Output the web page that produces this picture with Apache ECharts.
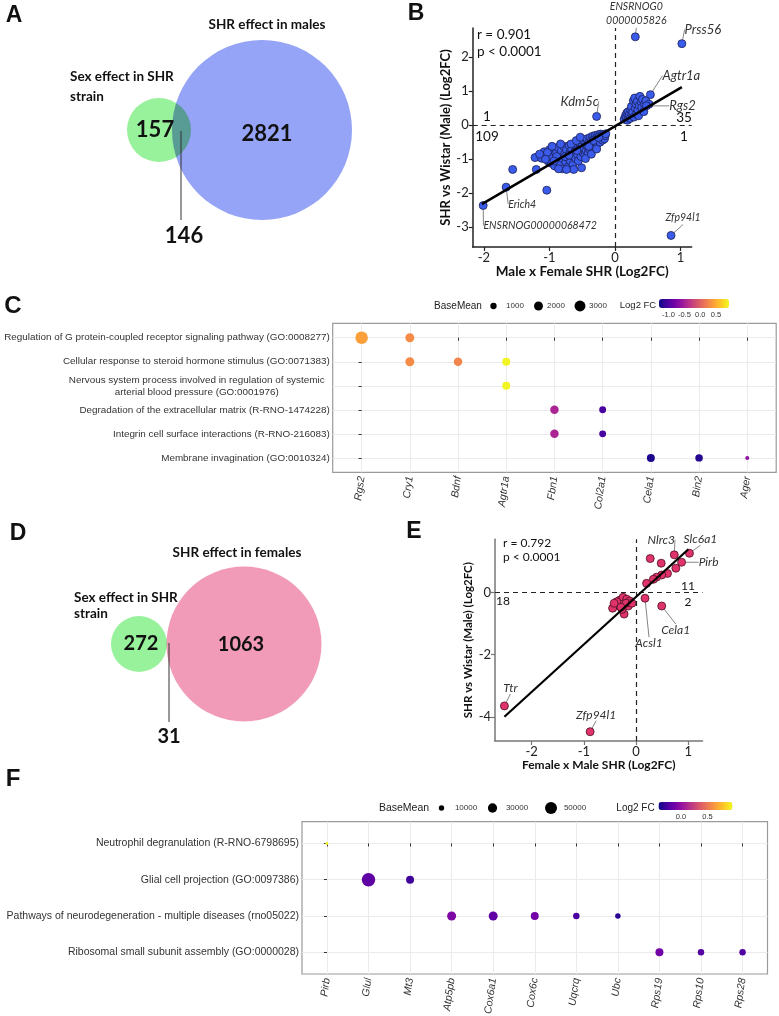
<!DOCTYPE html>
<html>
<head>
<meta charset="utf-8">
<script src="https://cdn.jsdelivr.net/npm/echarts@6/dist/echarts.min.js"></script>
<style>
html, body { margin: 0; padding: 0; background: #fff; }
#chart { width: 779px; height: 1016px; }
</style>
</head>
<body>
<div id="chart"></div>
<script>
// ---------- data ----------
// venn counts: [only left set, overlap, only right set]
const vennMaleCounts = [157, 146, 2821];
const vennMaleSets = ['Sex effect in SHR\nstrain', 'SHR effect in males'];
const vennFemaleCounts = [272, 31, 1063];
const vennFemaleSets = ['Sex effect in SHR\nstrain', 'SHR effect in females'];

// panel B - male x female vs SHR/Wistar (male)
const bStats = ['r = 0.901', 'p < 0.0001'];
const bQuadrants = [1, 109, 35, 1]; // upper-left, lower-left, upper-right, lower-right
const bTicksX = [-2, -1, 0, 1];
const bTicksY = [-3, -2, -1, 0, 1, 2];
const bPoints = [
  [-1.56, -1.30], [-1.20, -1.30], [-1.04, -1.91], [-0.51, -1.25],
  [-1.22, -0.95], [-1.12, -0.97], [-1.08, -0.78], [-1.05, -0.90], [-1.02, -1.05], [-1.00, -0.72],
  [-0.98, -0.85], [-0.97, -1.12], [-0.95, -0.95], [-0.93, -0.70], [-0.92, -1.20], [-0.90, -0.82],
  [-0.88, -1.02], [-0.87, -0.65], [-0.85, -0.90], [-0.84, -1.15], [-0.82, -0.75], [-0.80, -1.28],
  [-0.80, -0.98], [-0.78, -0.62], [-0.77, -0.85], [-0.75, -1.08], [-0.74, -0.72], [-0.72, -0.95],
  [-0.71, -1.22], [-0.70, -0.60], [-0.69, -0.82], [-0.68, -1.05], [-0.66, -0.70], [-0.65, -0.90],
  [-0.64, -1.15], [-0.62, -0.58], [-0.61, -0.78], [-0.60, -0.98], [-0.58, -0.66], [-0.57, -0.86],
  [-0.56, -1.05], [-0.55, -0.50], [-0.54, -0.72], [-0.52, -0.92], [-0.50, -0.60], [-0.49, -0.80],
  [-0.48, -0.45], [-0.47, -0.68], [-0.46, -0.88], [-0.45, -0.55], [-0.44, -0.75], [-0.43, -0.40],
  [-0.42, -0.62], [-0.41, -0.82], [-0.40, -0.50], [-0.39, -0.70], [-0.38, -0.36], [-0.37, -0.58],
  [-0.36, -0.45], [-0.35, -0.65], [-0.34, -0.32], [-0.33, -0.52], [-0.32, -0.40], [-0.31, -0.60],
  [-0.30, -0.30], [-0.29, -0.47], [-0.28, -0.36], [-0.27, -0.55], [-0.26, -0.28], [-0.25, -0.42],
  [-0.24, -0.33], [-0.23, -0.50], [-0.22, -0.26], [-0.21, -0.38], [-0.20, -0.30], [-0.19, -0.44],
  [-0.18, -0.34], [-0.17, -0.27], [-0.16, -0.40], [-0.15, -0.31], [-0.14, -0.25], [-1.15, -0.85],
  [-1.03, -0.80], [-0.96, -0.62], [-0.89, -0.92], [-0.83, -0.55], [-0.76, -0.92], [-0.67, -0.55],
  [-0.59, -0.45], [-0.53, -0.35], [-0.63, -1.30], [-0.86, -1.28], [-0.74, -1.30], [-1.06, -1.00],
  [-0.93, -1.05], [-0.45, -0.98], [-0.36, -0.85], [-0.28, -0.70], [-0.70, -0.88], [-0.58, -0.74],
  [-0.40, -0.62], [-0.33, -0.45], [-0.25, -0.36],
  [0.14, 0.18], [0.16, 0.28], [0.17, 0.22], [0.18, 0.36], [0.19, 0.15], [0.20, 0.40], [0.21, 0.25],
  [0.22, 0.32], [0.23, 0.20], [0.24, 0.45], [0.25, 0.55], [0.26, 0.30], [0.27, 0.38], [0.28, 0.72],
  [0.29, 0.24], [0.30, 0.80], [0.31, 0.50], [0.32, 0.62], [0.33, 0.34], [0.34, 0.70], [0.35, 0.45],
  [0.36, 0.28], [0.37, 0.58], [0.38, 0.85], [0.40, 0.66], [0.41, 0.52], [0.42, 0.76], [0.44, 0.40],
  [0.45, 0.62], [0.47, 0.72], [0.52, 0.62]
];
const bNamed = ['ENSRNOG0\n0000005826', 'Prss56', 'Agtr1a', 'Rgs2', 'Kdm5c', 'Erich4', 'ENSRNOG00000068472', 'Zfp94l1'];
const bNamedX = [0.31, 1.02, 0.54, 0.48, -0.28, -1.66, -2.01, 0.855];
const bNamedY = [2.60, 2.40, 0.90, 0.57, 0.26, -1.82, -2.36, -3.24];
const bFit = [[-2.03, -2.32], [1.02, 1.12]];

// panel C - enrichment (male)
const cGenes = ['Rgs2', 'Cry1', 'Bdnf', 'Agtr1a', 'Fbn1', 'Col2a1', 'Cela1', 'Bin2', 'Ager'];
const cTerms = [
  'Regulation of G protein-coupled receptor signaling pathway (GO:0008277)',
  'Cellular response to steroid hormone stimulus (GO:0071383)',
  'Nervous system process involved in regulation of systemic\narterial blood pressure (GO:0001976)',
  'Degradation of the extracellular matrix (R-RNO-1474228)',
  'Integrin cell surface interactions (R-RNO-216083)',
  'Membrane invagination (GO:0010324)'
];
// [gene, term index, baseMean, log2FC]
const cDots = [
  ['Rgs2', 0, 3900, 0.42], ['Cry1', 0, 2000, 0.29],
  ['Cry1', 1, 2000, 0.29], ['Bdnf', 1, 1800, 0.25], ['Agtr1a', 1, 1600, 0.88],
  ['Agtr1a', 2, 1600, 0.88],
  ['Fbn1', 3, 1800, -0.46], ['Col2a1', 3, 1200, -1.03],
  ['Fbn1', 4, 1800, -0.46], ['Col2a1', 4, 1200, -1.03],
  ['Cela1', 5, 1600, -1.23], ['Bin2', 5, 1400, -1.20], ['Ager', 5, 400, -0.64]
];
const cSizeLegend = [1000, 2000, 3000];
const cColorTicks = [-1.0, -0.5, 0.0, 0.5];

// panel E - female x male vs SHR/Wistar
const eStats = ['r = 0.792', 'p < 0.0001'];
const eQuadrants = [11, 18, 2]; // upper-right, lower-left, lower-right
const eTicksX = [-2, -1, 0, 1];
const eTicksY = [-4, -2, 0];
const ePoints = [
  [0.27, 1.10], [0.48, 0.95], [0.76, 0.79], [0.60, 0.62], [0.49, 0.57], [0.39, 0.50], [0.33, 0.43], [0.20, 0.30],
  [-0.40, -0.43], [-0.31, -0.24], [-0.25, -0.15], [-0.18, -0.21], [-0.12, -0.27], [-0.34, -0.40],
  [-0.24, -0.36], [-0.45, -0.50], [-0.23, -0.69], [-0.15, -0.43], [-0.27, -0.54], [-0.37, -0.29],
  [-0.19, -0.34], [-0.29, -0.47], [-0.08, -0.34], [-0.42, -0.34]
];
const eNamed = ['Slc6a1', 'Nlrc3', 'Pirb', 'Cela1', 'Acsl1', 'Ttr', 'Zfp94l1'];
const eNamedX = [1.02, 0.73, 0.87, 0.49, 0.17, -2.52, -0.88];
const eNamedY = [1.27, 1.22, 0.98, -0.43, -0.18, -3.65, -4.48];
const eFit = [[-2.52, -4.0], [1.0, 1.40]];

// panel F - enrichment (female)
const fGenes = ['Pirb', 'Glul', 'Mt3', 'Atp5pb', 'Cox6a1', 'Cox6c', 'Uqcrq', 'Ubc', 'Rps19', 'Rps10', 'Rps28'];
const fTerms = [
  'Neutrophil degranulation (R-RNO-6798695)',
  'Glial cell projection (GO:0097386)',
  'Pathways of neurodegeneration - multiple diseases (rno05022)',
  'Ribosomal small subunit assembly (GO:0000028)'
];
const fDots = [
  ['Pirb', 0, 3000, 0.95],
  ['Glul', 1, 63000, -0.18], ['Mt3', 1, 22000, -0.28],
  ['Atp5pb', 2, 28000, -0.07], ['Cox6a1', 2, 28000, -0.17], ['Cox6c', 2, 22000, -0.11],
  ['Uqcrq', 2, 14600, -0.25], ['Ubc', 2, 10500, -0.34],
  ['Rps19', 3, 22000, -0.11], ['Rps10', 3, 14600, -0.22], ['Rps28', 3, 14600, -0.22]
];
const fSizeLegend = [10000, 30000, 50000];
const fColorTicks = [0.0, 0.5];

// ---------- styles ----------
const FC = 'Lato, "Open Sans", sans-serif';
const FA = '"Liberation Sans", Arial, sans-serif';
const plasma = ['#0d0887', '#46039f', '#7201a8', '#9c179e', '#bd3786', '#d8576b', '#ed7953', '#fb9f3a', '#fdca26', '#f0f921'];
const cSize = v => 0.2 * Math.sqrt(v);
const fSize = v => 0.0537 * Math.sqrt(v);
const cRange = [-1.30, 0.91];
const fRange = [-0.42, 0.97];

// label offsets (px) from the point, for the named genes
const bLabelOff = [[1, -23], [21, -14], [31, -19], [36, 0], [-17, -15], [16, 17], [57, 20], [12, -18]];
const bLabelSize = [10.5, 13, 13, 13, 13, 10.5, 10.5, 10.5];
const eLabelOff = [[11, -14], [-13, -15], [27, 0], [14, 24], [4, 45], [6, -18], [6, -17]];

const txt = (text, x, y, o) => Object.assign({
  type: 'text', x: x, y: y, silent: true,
  style: Object.assign({
    text: text, fill: '#111', fontFamily: FC, fontSize: 14,
    align: 'center', verticalAlign: 'middle', textAlign: 'center', textVerticalAlign: 'middle'
  }, o || {})
});
const circle = (cx, cy, r, style) => ({ type: 'circle', silent: true, shape: { cx: cx, cy: cy, r: r }, style: style });
const seg = (x1, y1, x2, y2) => ({ type: 'line', silent: true, shape: { x1: x1, y1: y1, x2: x2, y2: y2 }, style: { stroke: '#333', lineWidth: 1 } });

function scatterAxis(grid, min, max, ticks, name, nameGap, color, nameSize) {
  return {
    gridIndex: grid, type: 'value', min: min, max: max,
    axisLine: { show: true, onZero: false, lineStyle: { color: color, width: 1.5 } },
    axisTick: { show: true, length: 4, customValues: ticks, lineStyle: { color: color, width: 1.2 } },
    axisLabel: { customValues: ticks, fontSize: 13, color: '#222', fontFamily: FC, margin: 4 },
    splitLine: { show: false },
    name: name, nameLocation: 'middle', nameGap: nameGap,
    nameTextStyle: { fontWeight: 'bold', fontSize: nameSize, fontFamily: FC, color: '#111' }
  };
}

function dotAxisX(grid, genes, size) {
  const ticks = genes.map((g, i) => i);
  return {
    gridIndex: grid, type: 'value', min: -0.6, max: genes.length - 0.4,
    axisLine: { show: false },
    axisTick: { show: true, length: 3, customValues: ticks, lineStyle: { color: '#333' } },
    axisLabel: {
      customValues: ticks, formatter: v => genes[v], rotate: 82, fontStyle: 'italic',
      fontSize: size, color: '#333', fontFamily: FA, margin: 4
    },
    splitLine: { show: true, lineStyle: { color: '#ebebeb', width: 1 } }
  };
}

function dotAxisY(grid, terms, size, richWidth) {
  const ticks = terms.map((t, i) => i);
  return {
    gridIndex: grid, type: 'value', inverse: true, min: -0.6, max: terms.length - 0.4,
    axisLine: { show: false },
    axisTick: { show: true, length: 3, customValues: ticks, lineStyle: { color: '#333' } },
    axisLabel: {
      customValues: ticks, fontSize: size, color: '#333', fontFamily: FA, margin: 3, lineHeight: 12,
      formatter: v => {
        const t = terms[v];
        return t.indexOf('\n') >= 0 ? t.split('\n').map(s => '{c|' + s + '}').join('\n') : t;
      },
      rich: { c: { width: richWidth, align: 'center', fontSize: size, fontFamily: FA, color: '#333', lineHeight: 12 } }
    },
    splitLine: { show: true, lineStyle: { color: '#ebebeb', width: 1 } }
  };
}

const dashed = {
  silent: true, symbol: 'none', label: { show: false },
  lineStyle: { type: [5, 4], color: '#222', width: 1.2 },
  data: [{ xAxis: 0 }, { yAxis: 0 }]
};

const bDotStyle = { color: '#3b5bea', borderColor: '#1a1f55', borderWidth: 0.8, opacity: 1 };
const eDotStyle = { color: '#e0336b', borderColor: '#4a1020', borderWidth: 0.8, opacity: 1 };

// legend helpers (size keys and colour-bar ticks)
function sizeLegend(values, sizeFn, keyX, labelX, y) {
  const out = [];
  values.forEach((v, i) => {
    out.push(circle(keyX[i], y, sizeFn(v) / 2, { fill: '#000' }));
    out.push(txt(String(v), labelX[i], y, { fontFamily: FA, fontSize: 8, fill: '#333' }));
  });
  return out;
}
function colorTicks(ticks, range, x0, len, y) {
  return ticks.map(t => txt(t.toFixed(1), x0 + (t - range[0]) / (range[1] - range[0]) * len, y,
    { fontFamily: FA, fontSize: 7.5, fill: '#333' }));
}

const graphics = [
  // panel letters
  txt('A', 14, 16, { fontFamily: FA, fontWeight: 'bold', fontSize: 23 }),
  txt('B', 416, 14, { fontFamily: FA, fontWeight: 'bold', fontSize: 23 }),
  txt('C', 13, 306, { fontFamily: FA, fontWeight: 'bold', fontSize: 24 }),
  txt('D', 18, 534, { fontFamily: FA, fontWeight: 'bold', fontSize: 23 }),
  txt('E', 414, 532, { fontFamily: FA, fontWeight: 'bold', fontSize: 23 }),
  txt('F', 13, 779, { fontFamily: FA, fontWeight: 'bold', fontSize: 24 }),

  // venn A
  circle(159, 130, 32, { fill: '#98f19b' }),
  circle(262, 130, 90, { fill: '#95a4f6', blend: 'multiply' }),
  txt(vennMaleSets[1], 267, 25, { fontWeight: 'bold', fontSize: 13.5 }),
  txt(vennMaleSets[0], 70, 87, { fontWeight: 'bold', fontSize: 13.5, align: 'left', textAlign: 'left', lineHeight: 20 }),
  txt(String(vennMaleCounts[0]), 155, 130, { fontWeight: 'bold', fontSize: 22 }),
  txt(String(vennMaleCounts[2]), 267, 134, { fontWeight: 'bold', fontSize: 22 }),
  seg(181, 131, 181, 220),
  txt(String(vennMaleCounts[1]), 184, 236, { fontWeight: 'bold', fontSize: 22 }),

  // venn D
  circle(139, 644, 28, { fill: '#98f19b' }),
  circle(244, 644, 77.5, { fill: '#f19bb9', blend: 'multiply' }),
  txt(vennFemaleSets[1], 237, 553, { fontWeight: 'bold', fontSize: 13.5 }),
  txt(vennFemaleSets[0], 74, 606, { fontWeight: 'bold', fontSize: 13.5, align: 'left', textAlign: 'left', lineHeight: 16 }),
  txt(String(vennFemaleCounts[0]), 141, 644, { fontWeight: 'bold', fontSize: 20 }),
  txt(String(vennFemaleCounts[2]), 241, 645, { fontWeight: 'bold', fontSize: 20 }),
  seg(169, 643, 169, 722),
  txt(String(vennFemaleCounts[1]), 169, 737, { fontWeight: 'bold', fontSize: 20 }),

  // panel B annotations
  txt(bStats[0], 477, 35, { align: 'left', textAlign: 'left', fontSize: 13.5 }),
  txt(bStats[1], 477, 52, { align: 'left', textAlign: 'left', fontSize: 13.5 }),
  txt(String(bQuadrants[0]), 487, 117, { fontSize: 13.5 }),
  txt(String(bQuadrants[1]), 487, 137, { fontSize: 13.5 }),
  txt(String(bQuadrants[2]), 684, 118, { fontSize: 13.5 }),
  txt(String(bQuadrants[3]), 684, 137, { fontSize: 13.5 }),

  // panel E annotations
  txt(eStats[0], 503, 543, { align: 'left', textAlign: 'left', fontSize: 12 }),
  txt(eStats[1], 503, 557, { align: 'left', textAlign: 'left', fontSize: 12 }),
  txt(String(eQuadrants[0]), 688, 586, { fontSize: 12 }),
  txt(String(eQuadrants[1]), 503, 601, { fontSize: 12 }),
  txt(String(eQuadrants[2]), 688, 602, { fontSize: 12 }),

  // panel C legend
  txt('BaseMean', 458, 306, { fontFamily: FA, fontSize: 10, fill: '#222' }),
  txt('Log2 FC', 638, 305, { fontFamily: FA, fontSize: 9.5, fill: '#222' }),
  // panel F legend
  txt('BaseMean', 404, 808, { fontFamily: FA, fontSize: 10.5, fill: '#222' }),
  txt('Log2 FC', 635.5, 808, { fontFamily: FA, fontSize: 10, fill: '#222' })
]
  .concat(sizeLegend(cSizeLegend, cSize, [493.5, 538.5, 580], [515, 556, 598], 306))
  .concat(colorTicks(cColorTicks, cRange, 659, 70, 315))
  .concat(sizeLegend(fSizeLegend, fSize, [441.5, 492.5, 551], [466, 517, 575], 808))
  .concat(colorTicks(fColorTicks, fRange, 658.5, 74, 817));

const option = {
  backgroundColor: '#fff',
  animation: false,
  grid: [
    { left: 472.7, top: 28, width: 219, height: 219, outerBoundsMode: 'none' },
    { left: 332.7, top: 323.3, width: 443.5, height: 149, show: true, borderColor: '#9a9a9a', borderWidth: 1.2, backgroundColor: 'transparent', outerBoundsMode: 'none' },
    { left: 495, top: 539.3, width: 207.5, height: 201.7, outerBoundsMode: 'none' },
    { left: 302, top: 821.7, width: 465.5, height: 152.3, show: true, borderColor: '#9a9a9a', borderWidth: 1.2, backgroundColor: 'transparent', outerBoundsMode: 'none' }
  ],
  xAxis: [
    scatterAxis(0, -2.17, 1.17, bTicksX, 'Male x Female SHR (Log2FC)', 16, '#222', 13.5),
    dotAxisX(1, cGenes, 10.5),
    scatterAxis(2, -2.7, 1.27, eTicksX, 'Female x Male SHR (Log2FC)', 15, '#777', 12),
    dotAxisX(3, fGenes, 10.5)
  ],
  yAxis: [
    scatterAxis(0, -3.58, 2.86, bTicksY, 'SHR vs Wistar (Male) (Log2FC)', 16, '#222', 13),
    dotAxisY(1, cTerms, 9.9, 266),
    scatterAxis(2, -4.78, 1.72, eTicksY, 'SHR vs Wistar (Male) (Log2FC)', 18, '#777', 11.5),
    dotAxisY(3, fTerms, 10.5, 280)
  ],
  visualMap: [
    {
      type: 'continuous', seriesIndex: 3, dimension: 3, min: cRange[0], max: cRange[1],
      orient: 'horizontal', left: 654, top: 294, itemWidth: 9, itemHeight: 70, padding: 5,
      calculable: false, hoverLink: false, inRange: { color: plasma }, textStyle: { fontSize: 0 }, text: ['', '']
    },
    {
      type: 'continuous', seriesIndex: 7, dimension: 3, min: fRange[0], max: fRange[1],
      orient: 'horizontal', left: 653.5, top: 797, itemWidth: 8, itemHeight: 74, padding: 5,
      calculable: false, hoverLink: false, inRange: { color: plasma }, textStyle: { fontSize: 0 }, text: ['', '']
    }
  ],
  graphic: graphics,
  series: [
    {
      type: 'scatter', xAxisIndex: 0, yAxisIndex: 0, data: bPoints, symbolSize: 8,
      itemStyle: bDotStyle, markLine: dashed, z: 2
    },
    {
      type: 'scatter', xAxisIndex: 0, yAxisIndex: 0, symbolSize: 8, itemStyle: bDotStyle, z: 3,
      data: bNamed.map((n, i) => ({ name: n, value: [bNamedX[i], bNamedY[i]] })),
      label: {
        show: true, position: 'inside', formatter: p => p.name, fontStyle: 'italic',
        fontFamily: FC, color: '#333', fontSize: 13, lineHeight: 14
      },
      labelLine: { show: true, lineStyle: { color: '#666', width: 0.8 } },
      labelLayout: p => ({ dx: bLabelOff[p.dataIndex][0], dy: bLabelOff[p.dataIndex][1], fontSize: bLabelSize[p.dataIndex] })
    },
    {
      type: 'line', xAxisIndex: 0, yAxisIndex: 0, data: bFit, symbol: 'none', silent: true,
      lineStyle: { color: '#000', width: 2.5 }, z: 5
    },
    {
      type: 'scatter', xAxisIndex: 1, yAxisIndex: 1,
      data: cDots.map(d => [cGenes.indexOf(d[0]), d[1], d[2], d[3]]),
      symbolSize: d => cSize(d[2]), itemStyle: { opacity: 1 }
    },
    {
      type: 'scatter', xAxisIndex: 2, yAxisIndex: 2, data: ePoints, symbolSize: 8,
      itemStyle: eDotStyle, markLine: dashed, z: 2
    },
    {
      type: 'scatter', xAxisIndex: 2, yAxisIndex: 2, symbolSize: 8, itemStyle: eDotStyle, z: 3,
      data: eNamed.map((n, i) => ({ name: n, value: [eNamedX[i], eNamedY[i]] })),
      label: {
        show: true, position: 'inside', formatter: p => p.name, fontStyle: 'italic',
        fontFamily: FC, color: '#333', fontSize: 12
      },
      labelLine: { show: true, lineStyle: { color: '#666', width: 0.8 } },
      labelLayout: p => ({ dx: eLabelOff[p.dataIndex][0], dy: eLabelOff[p.dataIndex][1] })
    },
    {
      type: 'line', xAxisIndex: 2, yAxisIndex: 2, data: eFit, symbol: 'none', silent: true,
      lineStyle: { color: '#000', width: 2.2 }, z: 5
    },
    {
      type: 'scatter', xAxisIndex: 3, yAxisIndex: 3,
      data: fDots.map(d => [fGenes.indexOf(d[0]), d[1], d[2], d[3]]),
      symbolSize: d => fSize(d[2]), itemStyle: { opacity: 1 }
    }
  ]
};

const chart = echarts.init(document.getElementById('chart'));
chart.setOption(option);
</script>
</body>
</html>
